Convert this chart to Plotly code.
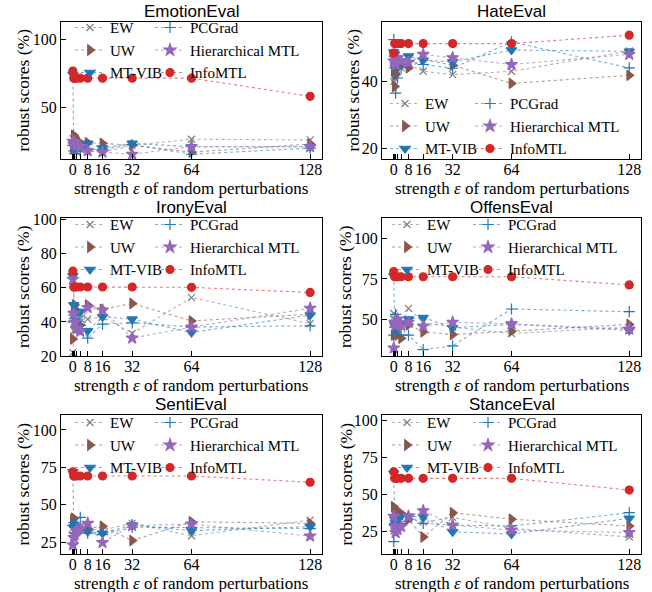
import plotly.graph_objects as go

# ---------------- data ----------------
X = [0, 0.5, 1, 2, 4, 8, 16, 32, 64, 128]
X_MAJOR = [0, 8, 16, 32, 64, 128]
X_MINOR = [0.5, 1, 2, 4]
METHODS = ["EW", "UW", "MT-VIB", "PCGrad", "Hierarchical MTL", "InfoMTL"]
TASKS = ["EmotionEval", "HateEval", "IronyEval", "OffensEval", "SentiEval", "StanceEval"]

emotion_ew = [27, 20, 18, 17, 19, 18, 17, 22, 26.5, 26]
emotion_uw = [20, 29.5, 28, 25, 24, 24, 23.5, 22, 17, 23]
emotion_mtvib = [74, 22, 21, 20, 20, 23.5, 20, 23.5, 21, 21]
emotion_pcgrad = [22, 18, 16, 19, 20, 19, 19, 22.5, 15.5, 20]
emotion_hier = [25, 23, 24, 22, 21, 18, 17, 15.5, 21, 21]
emotion_info = [76.5, 71.3, 71.3, 71.3, 71.3, 71.3, 71.3, 71.3, 71.3, 58]

hate_ew = [40, 41, 42, 43, 44, 45, 43, 42, 43, 49]
hate_uw = [43, 38.5, 42, 44, 45, 44, 46.5, 44.8, 39.4, 41.8]
hate_mtvib = [48.7, 48, 46, 45, 46, 47.5, 46.3, 45.8, 49.3, 48.9]
hate_pcgrad = [52.4, 44, 36.5, 41, 44, 46, 45, 43.9, 51.7, 44]
hate_hier = [46, 47, 45, 47, 46, 45.7, 48, 47, 45, 48]
hate_info = [48.4, 51.2, 51.2, 51.2, 51.2, 51.2, 51.2, 51.2, 51.2, 53.7]

irony_ew = [22, 35, 40, 45, 42, 41.6, 43, 33.3, 54.3, 39]
irony_uw = [30, 48, 50, 40, 38, 50, 47.4, 50.8, 40.6, 44.5]
irony_mtvib = [67, 50, 45, 46, 46, 34.8, 43, 41.6, 33.8, 44]
irony_pcgrad = [40, 44, 42, 36, 38, 30.5, 38.7, 39.5, 37, 37.7]
irony_hier = [65, 45, 40, 36, 34.5, 48.4, 47, 30.5, 37, 48]
irony_info = [69.8, 60.5, 60.5, 60.5, 60.5, 60.5, 60.5, 60.5, 60.3, 57.3]

offens_ew = [53.5, 48, 45, 44, 46, 56.7, 48, 45, 41, 45]
offens_uw = [40, 42, 44, 40, 38, 46.5, 42, 40.4, 42.5, 46.7]
offens_mtvib = [77, 47, 45, 44, 47, 50, 51, 44.6, 46.7, 43]
offens_pcgrad = [40, 45, 53, 44, 40, 40, 31, 33.3, 56.3, 54.6]
offens_hier = [32, 48, 46, 50, 46, 48, 45.6, 48, 47, 43.8]
offens_info = [79.6, 76.4, 76.4, 76.4, 76.4, 76.4, 76.4, 76.4, 76.4, 71.3]

senti_ew = [30, 35, 33, 34, 35, 34, 33, 37.5, 29.2, 39.7]
senti_uw = [40, 41, 36, 35, 33, 34, 35.6, 26, 38.6, 37.5]
senti_mtvib = [72, 35, 34, 32, 33, 32, 30.8, 36.4, 32.6, 35.3]
senti_pcgrad = [36, 38, 35, 37, 41.5, 31, 30, 35, 34.8, 34]
senti_hier = [23, 28, 30, 33, 34, 37.5, 24.6, 36, 37, 29]
senti_info = [72, 69.2, 69.2, 69.2, 69.2, 69.2, 69.2, 69.2, 69.2, 65]

stance_ew = [25, 30, 28, 26, 30, 33, 31, 34.2, 26.8, 21]
stance_uw = [41.4, 40, 38, 37, 37, 33, 21, 37.4, 33, 28.4]
stance_mtvib = [64, 33, 30, 32, 35, 35, 34.7, 24.5, 23, 33.6]
stance_pcgrad = [17.8, 30, 36, 33, 30, 35, 30.2, 29, 28.4, 37.4]
stance_hier = [35, 28, 24, 26, 28, 35, 38.7, 29, 25.7, 24]
stance_info = [65, 60.6, 60.6, 60.6, 60.6, 60.6, 60.6, 60.6, 60.6, 52.7]

SERIES = [
    [emotion_ew, emotion_uw, emotion_mtvib, emotion_pcgrad, emotion_hier, emotion_info],
    [hate_ew, hate_uw, hate_mtvib, hate_pcgrad, hate_hier, hate_info],
    [irony_ew, irony_uw, irony_mtvib, irony_pcgrad, irony_hier, irony_info],
    [offens_ew, offens_uw, offens_mtvib, offens_pcgrad, offens_hier, offens_info],
    [senti_ew, senti_uw, senti_mtvib, senti_pcgrad, senti_hier, senti_info],
    [stance_ew, stance_uw, stance_mtvib, stance_pcgrad, stance_hier, stance_info],
]

Y_RANGES = [[12, 112.5], [17, 57.6], [20, 101], [27, 113], [17, 110], [9.5, 103.4]]
Y_TICKS = [[50, 100], [20, 40], [20, 40, 60, 80, 100], [50, 75, 100],
           [25, 50, 75, 100], [25, 50, 75, 100]]
X_TITLE = "strength <i>ε</i> of random perturbations"
Y_TITLE = "robust scores (%)"

# ---------------- styling ----------------
W, H = 652, 592
COLORS = ["#7f7f7f", "#8c564b", "#1f77b4", "#1f77b4", "#9467bd", "#d62728"]
LINE_COLORS = ["rgba(127,127,127,0.6)", "rgba(140,86,75,0.6)", "rgba(31,119,180,0.6)",
               "rgba(31,119,180,0.6)", "rgba(148,103,189,0.6)", "rgba(214,39,40,0.6)"]
SYMBOLS = ["x-thin-open", "triangle-right", "triangle-down", "cross-thin-open", "star", "circle"]
SIZES = [7, 9, 9, 8, 9, 8]

SERIF = "Liberation Serif"
SANS = "Liberation Sans"

# pixel boxes (left, right, top, bottom)
BOXES = [(61, 322, 22, 159), (382, 641, 22, 159),
         (61, 322, 218, 356), (382, 641, 218, 356),
         (61, 322, 415, 554), (382, 641, 415, 554)]
# y-title center x
YT_X = [22, 352, 23, 345, 22, 345]
# legend: (col1 marker x, col2 marker x, middle row center y)
LEG = [(90, 170, 50), (405, 490, 126), (90, 170, 247), (407, 488, 247),
       (90, 170, 445), (407, 488, 445)]
LEG_FONT = 15
ITEM_H = LEG_FONT * 1.3 + 3

fig = go.Figure()
layout = dict(width=W, height=H, margin=dict(l=0, r=0, t=0, b=0),
              plot_bgcolor="white", paper_bgcolor="white", annotations=[])

for p in range(6):
    ax = "" if p == 0 else str(p + 1)
    l, r, t, b = BOXES[p]
    xd = [l / W, r / W]
    yd = [1 - b / H, 1 - t / H]
    for m in range(6):
        leg_idx = 2 * p + (0 if m < 3 else 1)
        leg_name = "legend" if leg_idx == 0 else "legend%d" % (leg_idx + 1)
        fig.add_trace(go.Scatter(
            x=X, y=SERIES[p][m], name=METHODS[m], mode="lines+markers",
            xaxis="x" + ax, yaxis="y" + ax, legend=leg_name,
            line=dict(color=LINE_COLORS[m], width=1.1, dash="dot"),
            marker=dict(symbol=SYMBOLS[m], size=SIZES[m], color=COLORS[m],
                        line=dict(color=COLORS[m], width=1.2)),
        ))
    layout["xaxis" + ax] = dict(
        domain=xd, anchor="y" + ax, range=[-6.4, 134.4],
        tickmode="array", tickvals=X_MAJOR, ticktext=[str(v) for v in X_MAJOR],
        ticks="inside", ticklen=5, tickwidth=1.3, tickcolor="black",
        minor=dict(tickmode="array", tickvals=X_MINOR, ticks="inside", ticklen=5,
                   tickwidth=1.3, tickcolor="black", showgrid=False),
        showline=True, linecolor="black", linewidth=1.2, mirror=True,
        showgrid=False, zeroline=False, automargin=False, ticklabelstandoff=-4,
        tickfont=dict(family=SERIF, size=16, color="black"),
    )
    layout["yaxis" + ax] = dict(
        domain=yd, anchor="x" + ax, range=Y_RANGES[p],
        tickmode="array", tickvals=Y_TICKS[p],
        ticks="inside", ticklen=5, tickwidth=1.3, tickcolor="black",
        showline=True, linecolor="black", linewidth=1.2, mirror=True,
        showgrid=False, zeroline=False, automargin=False,
        tickfont=dict(family=SERIF, size=16, color="black"),
    )
    # subplot title
    layout["annotations"].append(dict(
        text=TASKS[p], xref="paper", yref="paper", x=(xd[0] + xd[1]) / 2, y=yd[1],
        xanchor="center", yanchor="bottom", yshift=-1, showarrow=False,
        font=dict(family=SANS, size=17, color="black")))
    # x-axis title
    layout["annotations"].append(dict(
        text=X_TITLE, xref="paper", yref="paper", x=(xd[0] + xd[1]) / 2,
        y=1 - (b + 29) / H, xanchor="center", yanchor="middle", showarrow=False,
        font=dict(family=SERIF, size=17, color="black")))
    # y-axis title
    layout["annotations"].append(dict(
        text=Y_TITLE, xref="paper", yref="paper", x=YT_X[p] / W,
        y=(yd[0] + yd[1]) / 2, xanchor="center", yanchor="middle", textangle=-90,
        showarrow=False, font=dict(family=SERIF, size=17.5, color="black")))
    c1, c2, mid = LEG[p]
    top = mid - 1.5 * ITEM_H - 5
    for k, cx in enumerate([c1, c2]):
        leg_idx = 2 * p + k
        leg_name = "legend" if leg_idx == 0 else "legend%d" % (leg_idx + 1)
        layout[leg_name] = dict(
            x=(cx - 20) / W, y=1 - top / H, xref="paper", yref="paper",
            xanchor="left", yanchor="top", bgcolor="rgba(0,0,0,0)",
            borderwidth=0, font=dict(family=SERIF, size=LEG_FONT, color="black"),
        )

fig.update_layout(**layout)
fig.write_html("out.html", config={"displayModeBar": False},
               post_script="document.body.style.margin='0';")
